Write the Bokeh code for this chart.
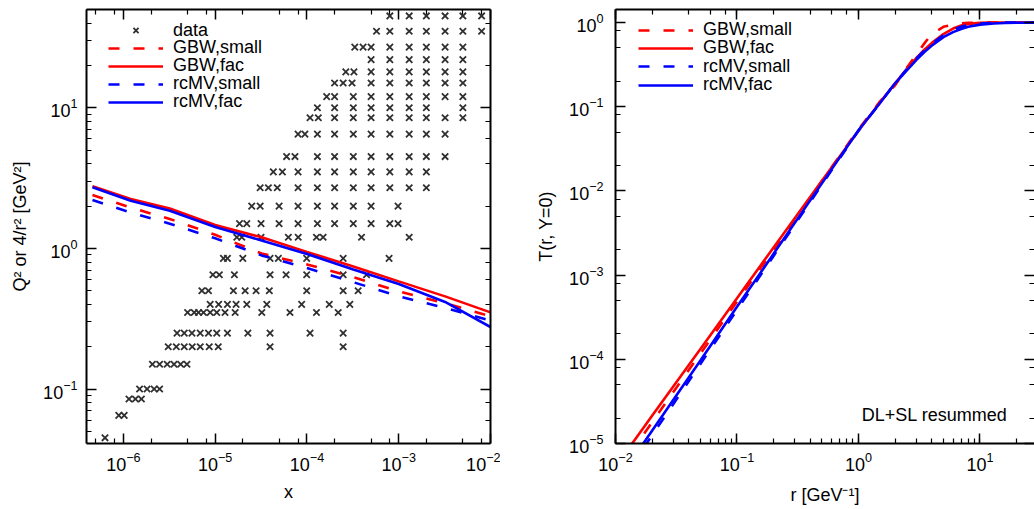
from bokeh.plotting import figure
from bokeh.models import Range1d, LogAxis, Legend, LegendItem, Label, FixedTicker, LogTicker, CustomJSTickFormatter
from bokeh.layouts import row
from bokeh.embed import file_html
from bokeh.resources import INLINE

FONT = "Liberation Sans"
RED = "#ff0000"
BLUE = "#0000ff"
DATA_COLOR = "#303030"

# ---------------- left panel: measured (x, Q^2) points, one list per Q^2 row
data_q2 = [0.045, 0.065, 0.085, 0.1, 0.15, 0.2, 0.25, 0.35, 0.4, 0.5, 0.65, 0.85,
           1.2, 1.5, 2.0, 2.7, 3.5, 4.5, 6.5, 8.5, 10, 12, 15, 18, 22, 27, 35, 45]
data_x_rows = [
    [6.3e-7],
    [8.9e-7, 1.02e-6],
    [1.15e-6, 1.35e-6, 1.57e-6],
    [1.5e-6, 1.81e-6, 2.16e-6, 2.48e-6],
    [2.07e-6, 2.48e-6, 3.0e-6, 3.56e-6, 4.2e-6, 4.92e-6],
    [3.08e-6, 3.77e-6, 4.6e-6, 5.62e-6, 6.87e-6, 8.61e-6, 1.08e-5, 3.96e-5, 2.48e-4],
    [3.84e-6, 4.6e-6, 5.58e-6, 6.87e-6, 8.45e-6, 1.04e-5, 1.36e-5, 2.27e-5, 3.96e-5, 1.08e-4, 2.48e-4],
    [5.0e-6, 5.91e-6, 6.58e-6, 7.46e-6, 8.82e-6, 1.04e-5, 1.28e-5, 1.65e-5, 3.22e-5, 6.53e-5, 1.27e-4, 2.19e-4],
    [8.82e-6, 1.09e-5, 1.36e-5, 1.69e-5, 2.21e-5, 3.65e-5, 8.75e-5, 1.75e-4, 2.93e-4],
    [7.16e-6, 8.45e-6, 1.58e-5, 2.12e-5, 2.79e-5, 3.89e-5, 9.93e-5, 2.48e-4, 3.61e-4],
    [9.44e-6, 1.11e-5, 1.62e-5, 3.96e-5, 5.92e-5, 9.93e-5, 2.48e-4, 4.46e-4],
    [1.23e-5, 1.36e-5, 2.0e-5, 3.96e-5, 4.88e-5, 9.93e-5, 2.48e-4, 7.85e-4],
    [1.72e-5, 1.95e-5, 3.16e-5, 6.27e-5, 8.03e-5, 1.27e-4, 1.5e-4, 3.93e-4, 1.3e-3],
    [1.84e-5, 2.21e-5, 3.16e-5, 4.97e-5, 8.0e-5, 1.3e-4, 2.0e-4, 3.2e-4, 5.0e-4, 8.0e-4, 9.83e-4],
    [2.5e-5, 3.09e-5, 4.97e-5, 8.0e-5, 1.3e-4, 2.0e-4, 3.2e-4, 5.0e-4, 9.83e-4],
    [3.09e-5, 3.8e-5, 4.75e-5, 8.0e-5, 1.3e-4, 2.0e-4, 3.2e-4, 5.0e-4, 8.0e-4, 1.3e-3, 2.0e-3],
    [4.3e-5, 5.4e-5, 8.0e-5, 1.3e-4, 2.0e-4, 3.2e-4, 5.0e-4, 8.0e-4, 1.3e-3, 2.0e-3],
    [6.0e-5, 7.4e-5, 1.3e-4, 2.0e-4, 3.2e-4, 5.0e-4, 8.0e-4, 1.3e-3, 2.0e-3, 3.2e-3],
    [8.0e-5, 9.5e-5, 1.3e-4, 2.0e-4, 3.2e-4, 5.0e-4, 8.0e-4, 1.3e-3, 2.0e-3, 3.2e-3],
    [1.08e-4, 1.33e-4, 2.0e-4, 3.2e-4, 5.0e-4, 8.0e-4, 1.3e-3, 2.0e-3, 3.2e-3, 5.0e-3],
    [1.3e-4, 2.0e-4, 3.2e-4, 5.0e-4, 8.0e-4, 1.3e-3, 2.0e-3, 5.0e-3],
    [1.64e-4, 2.0e-4, 3.2e-4, 5.0e-4, 8.0e-4, 1.3e-3, 2.0e-3, 3.2e-3, 5.0e-3],
    [2.0e-4, 2.48e-4, 3.1e-4, 5.0e-4, 8.0e-4, 1.3e-3, 2.0e-3, 3.2e-3, 5.0e-3],
    [2.65e-4, 3.25e-4, 5.0e-4, 8.0e-4, 1.3e-3, 2.0e-3, 3.2e-3, 5.0e-3],
    [5.0e-4, 8.0e-4, 1.3e-3, 2.0e-3, 3.2e-3, 5.0e-3],
    [3.32e-4, 4.09e-4, 5.0e-4, 8.0e-4, 1.3e-3, 2.0e-3, 3.2e-3, 5.0e-3],
    [5.73e-4, 8.0e-4, 1.3e-3, 2.0e-3, 3.2e-3, 5.0e-3, 8.0e-3],
    [8.0e-4, 1.3e-3, 2.0e-3, 3.2e-3, 5.0e-3, 8.0e-3],
]

# saturation-scale curves (Q_s^2 = 4/r_s^2) vs x
curve_x = [4.6e-7, 1.2e-6, 3.2e-6, 1e-5, 3.2e-5, 1e-4, 3.2e-4, 1e-3, 3.2e-3, 1e-2]
gbw_small_q2 = [2.40, 1.95, 1.62, 1.25, 0.92, 0.77, 0.625, 0.494, 0.408, 0.329]
gbw_fac_q2 = [2.77, 2.25, 1.92, 1.47, 1.20, 0.945, 0.743, 0.583, 0.456, 0.351]
rcmv_small_q2 = [2.21, 1.80, 1.50, 1.18, 0.892, 0.726, 0.575, 0.457, 0.377, 0.307]
rcmv_fac_q2 = [2.72, 2.18, 1.85, 1.42, 1.14, 0.914, 0.709, 0.559, 0.416, 0.276]

# ---------------- right panel: dipole amplitude T(r, Y=0)
r_vals = [0.01, 0.02, 0.05, 0.1, 0.2, 0.5, 1, 1.5, 2, 2.5, 3, 3.5, 4, 5, 6, 7, 8, 10, 13, 16, 20, 30]
gbw_small_T = [4.3e-6, 1.79e-5, 1.17e-4, 4.84e-4, 2.0e-3, 0.0131, 0.054, 0.115, 0.18, 0.29, 0.42,
               0.57, 0.73, 0.89, 0.95, 0.98, 0.995, 1.0, 1.0, 1.0, 1.0, 1.0]
gbw_fac_T = [5.3e-6, 2.13e-5, 1.33e-4, 5.3e-4, 2.13e-3, 0.0132, 0.052, 0.112, 0.19, 0.28, 0.38,
             0.48, 0.57, 0.73, 0.85, 0.925, 0.965, 0.993, 1.0, 1.0, 1.0, 1.0]
rcmv_small_T = [2.9e-6, 1.25e-5, 8.8e-5, 3.86e-4, 1.69e-3, 0.0119, 0.052, 0.11, 0.19, 0.28, 0.375,
                0.47, 0.56, 0.71, 0.82, 0.89, 0.935, 0.975, 0.993, 1.0, 1.0, 1.0]
rcmv_fac_T = [3.3e-6, 1.42e-5, 9.7e-5, 4.2e-4, 1.79e-3, 0.0123, 0.0526, 0.11, 0.19, 0.27, 0.36,
              0.45, 0.53, 0.67, 0.77, 0.84, 0.89, 0.945, 0.975, 0.99, 0.997, 1.0]

series_labels = ["GBW,small", "GBW,fac", "rcMV,small", "rcMV,fac"]
series_colors = [RED, RED, BLUE, BLUE]
series_dash = ["11 14", "solid", "11 14", "solid"]


def ticker_258(lo_exp, hi_exp):
    majors = [10.0 ** k for k in range(lo_exp, hi_exp + 1)]
    minors = [m * 10.0 ** k for k in range(lo_exp - 1, hi_exp + 1) for m in (2, 5, 8)]
    return FixedTicker(ticks=majors, minor_ticks=minors)


def style_axis(ax, show_labels=True, standoff=9):
    ax.axis_line_width = 2
    ax.axis_line_color = "black"
    ax.major_tick_in = 10
    ax.major_tick_out = 0
    ax.minor_tick_in = 5
    ax.minor_tick_out = 0
    ax.major_tick_line_width = 1.5
    ax.minor_tick_line_width = 1.2
    ax.major_tick_line_color = "black"
    ax.minor_tick_line_color = "black"
    ax.major_label_text_font = FONT
    ax.major_label_text_font_size = "18px"
    ax.major_label_text_color = "black"
    ax.major_label_standoff = standoff
    ax.axis_label_text_font = FONT
    ax.axis_label_text_font_size = "18px"
    ax.axis_label_text_font_style = "normal"
    ax.axis_label_text_color = "black"
    if not show_labels:
        ax.formatter = CustomJSTickFormatter(code="return ' ';")
        ax.major_label_text_font_size = "2px"
        ax.major_label_text_alpha = 0
        ax.major_label_standoff = 0


def make_fig(width, x_range, y_range, border_left, border_right):
    p = figure(width=width, height=509, x_axis_type="log", y_axis_type="log",
               x_range=x_range, y_range=y_range, output_backend="svg",
               toolbar_location=None, min_border_left=border_left,
               min_border_right=border_right, min_border_top=9, min_border_bottom=66)
    p.grid.visible = False
    p.outline_line_color = None
    p.background_fill_color = "white"
    p.border_fill_color = "white"
    return p


def add_legend_rows(p, labels, renderers, x_off, centers):
    # one single-row legend per entry, so rows sit at the reference's spacing
    for lab, ren, yc in zip(labels, renderers, centers):
        leg = Legend(items=[LegendItem(label=lab, renderers=[ren])],
                     location=(x_off, 434 - (yc - 9) - 10.5))
        leg.background_fill_alpha = 0
        leg.border_line_alpha = 0
        leg.padding = 0
        leg.margin = 0
        leg.spacing = 0
        leg.label_height = 18
        leg.glyph_height = 18
        leg.glyph_width = 55
        leg.label_standoff = 10
        leg.label_text_font = FONT
        leg.label_text_font_size = "18px"
        leg.label_text_color = "black"
        p.add_layout(leg)


# ================= left figure
p1 = make_fig(500, Range1d(3.96e-7, 1e-2), Range1d(0.041, 50), 86, 10)
p1.xaxis.ticker = ticker_258(-7, -2)
style_axis(p1.xaxis[0], standoff=8)
style_axis(p1.yaxis[0], standoff=9)
p1.xaxis.axis_label = "x"
p1.yaxis.axis_label = "Q² or 4/r² [GeV²]"
p1.xaxis.axis_label_standoff = 8
p1.yaxis.axis_label_standoff = 10
top1 = LogAxis(ticker=ticker_258(-7, -2))
style_axis(top1, show_labels=False)
p1.add_layout(top1, "above")
right1 = LogAxis(ticker=LogTicker())
style_axis(right1, show_labels=False)
p1.add_layout(right1, "right")

flat_x = [x for xs in data_x_rows for x in xs]
flat_q2 = [q for q, xs in zip(data_q2, data_x_rows) for _ in xs]
r_data = p1.scatter(flat_x, flat_q2, marker="x", size=9, line_color=DATA_COLOR, line_width=1.8)

left_curves = [gbw_small_q2, gbw_fac_q2, rcmv_small_q2, rcmv_fac_q2]
left_renderers = []
for ys, col, dash in zip(left_curves, series_colors, series_dash):
    left_renderers.append(p1.line(curve_x, ys, line_color=col, line_width=2.6, line_dash=dash))

add_legend_rows(p1, ["data"] + series_labels, [r_data] + left_renderers, 22,
                [30, 47.5, 65.5, 83.5, 101.5])

# ================= right figure
p2 = make_fig(534, Range1d(0.01, 28.1), Range1d(1e-5, 1.43), 115, 0)
p2.yaxis.ticker = ticker_258(-5, 0)
style_axis(p2.xaxis[0], standoff=8)
style_axis(p2.yaxis[0], standoff=12)
p2.xaxis.axis_label = "r [GeV⁻¹]"
p2.yaxis.axis_label = "T(r, Y=0)"
p2.xaxis.axis_label_standoff = 11
p2.yaxis.axis_label_standoff = 10
top2 = LogAxis(ticker=LogTicker())
style_axis(top2, show_labels=False)
p2.add_layout(top2, "above")
right2 = LogAxis(ticker=ticker_258(-5, 0))
style_axis(right2, show_labels=False)
right2.axis_line_color = None
p2.add_layout(right2, "right")

right_curves = [gbw_small_T, gbw_fac_T, rcmv_small_T, rcmv_fac_T]
right_renderers = []
for ys, col, dash in zip(right_curves, series_colors, series_dash):
    right_renderers.append(p2.line(r_vals, ys, line_color=col, line_width=2.6, line_dash=dash))

add_legend_rows(p2, series_labels, right_renderers, 23, [29.5, 47.5, 66, 84.5])

p2.add_layout(Label(x=16.8, y=2.2e-5, text="DL+SL resummed", text_align="right",
                    text_baseline="middle", text_font=FONT, text_font_size="18px",
                    text_color="black"))

layout = row(p1, p2)
open("out.html", "w").write(file_html(layout, INLINE))
